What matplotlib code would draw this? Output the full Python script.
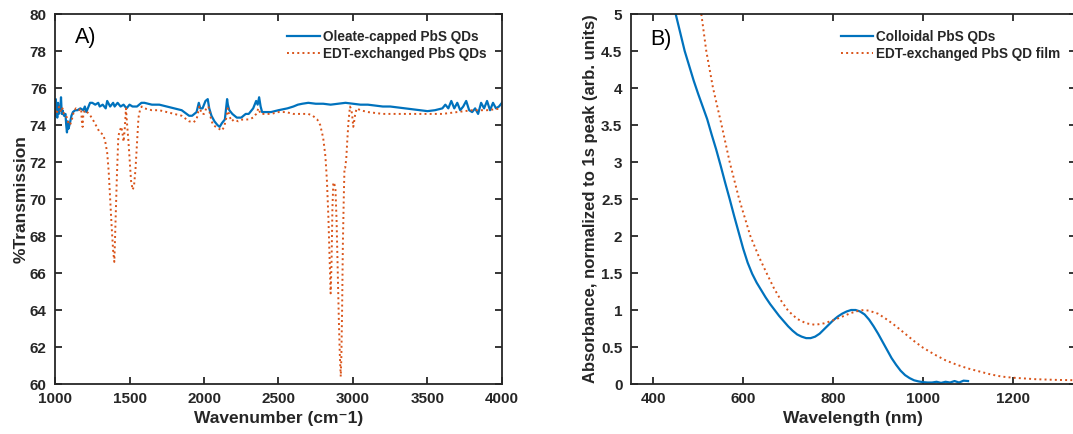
import numpy as np
import matplotlib
matplotlib.use("Agg")
import matplotlib.pyplot as plt
from matplotlib.ticker import FormatStrFormatter

plt.rcParams["font.family"] = ["Liberation Sans", "DejaVu Sans"]
plt.rcParams["font.weight"] = "bold"

BLUE = "#0072BD"
ORANGE = "#D95319"
AX = "#262626"

# panel A: FTIR, wavenumber (cm-1) vs %T
wn_oleate = [1000, 1005, 1010, 1015, 1020, 1025, 1030, 1035, 1040, 1045, 1050, 1060, 1070, 1075,
             1080, 1085, 1090, 1100, 1110, 1120, 1135, 1150, 1170, 1190, 1200, 1210, 1220, 1235,
             1250, 1270, 1290, 1300, 1320, 1340, 1350, 1370, 1390, 1400, 1420, 1440, 1460, 1480,
             1500, 1520, 1550, 1580, 1600, 1650, 1700, 1750, 1800, 1850, 1900, 1920, 1950, 1965,
             1975, 1990, 2010, 2025, 2035, 2050, 2070, 2090, 2105, 2120, 2140, 2155, 2160, 2170,
             2190, 2220, 2250, 2280, 2300, 2330, 2350, 2360, 2370, 2380, 2390, 2420, 2450, 2500,
             2530, 2560, 2600, 2630, 2660, 2700, 2750, 2800, 2850, 2900, 2950, 3000, 3050, 3100,
             3150, 3200, 3250, 3300, 3350, 3400, 3450, 3500, 3550, 3600,
             3620, 3640, 3660, 3680, 3700, 3720, 3740, 3760, 3780, 3800, 3820, 3840, 3860, 3880,
             3900, 3920, 3940, 3960, 3980, 4000]
t_oleate = [74.5, 75.4, 74.8, 74.4, 75.2, 74.6, 75.0, 74.8, 75.5, 74.6, 74.8, 74.5, 74.6, 74.0,
            73.6, 74.2, 73.8, 74.1, 74.5, 74.7, 74.8, 74.8, 74.9, 74.8, 75.0, 74.7, 74.9, 75.2,
            75.2, 75.1, 75.2, 75.0, 75.1, 74.9, 75.3, 75.0, 75.2, 75.0, 75.2, 75.0, 75.1, 74.9,
            75.1, 75.0, 75.0, 75.2, 75.2, 75.1, 75.1, 75.0, 74.9, 74.8, 74.5, 74.5, 74.7, 75.2,
            74.9, 74.9, 75.3, 75.4, 74.9, 74.5, 74.2, 74.0, 73.9, 74.1, 74.3, 75.4, 75.1, 74.8,
            74.6, 74.4, 74.4, 74.6, 74.6, 74.9, 75.3, 75.1, 75.5, 75.0, 74.7, 74.7, 74.7, 74.8,
            74.85, 74.9, 75.0, 75.1, 75.15, 75.2, 75.15, 75.15, 75.1, 75.15, 75.2, 75.15, 75.1, 75.1,
            75.05, 75.0, 75.0, 74.95, 74.9, 74.85, 74.8, 74.75, 74.8, 74.9,
            75.1, 74.9, 75.3, 74.9, 75.2, 74.8, 75.0, 75.3, 74.8, 74.7, 74.9, 74.6, 75.2, 74.9,
            75.3, 74.8, 75.2, 74.9, 75.0, 75.2]

wn_edt = [1000, 1010, 1020, 1030, 1040, 1050, 1060, 1075, 1090, 1100, 1110, 1125, 1140, 1160,
          1175, 1180, 1185, 1190, 1200, 1215, 1230, 1245, 1260, 1280, 1300, 1320, 1335, 1350,
          1360, 1370, 1380, 1390, 1398, 1405, 1415, 1425, 1435, 1445, 1452, 1460, 1468, 1476,
          1484, 1492, 1500, 1510, 1521, 1530, 1540, 1550, 1560, 1570, 1582, 1600, 1650, 1700,
          1750, 1800, 1850, 1900, 1930, 1950, 1969, 1985, 2000, 2015, 2030, 2045, 2060, 2080,
          2100, 2120, 2135, 2150, 2159, 2170, 2185, 2200, 2230, 2260, 2300, 2330, 2350, 2365,
          2380, 2400, 2450, 2500, 2550, 2600, 2650, 2700, 2730, 2760, 2780, 2800, 2815, 2825,
          2835, 2843, 2850, 2856, 2862, 2868, 2875, 2882, 2890, 2898, 2905, 2912, 2918, 2922,
          2927, 2932, 2938, 2943, 2948, 2955, 2962, 2970, 2980, 2990, 2996, 3002, 3008, 3015,
          3025, 3050, 3100, 3200, 3300, 3400, 3500, 3600, 3700, 3800, 3900, 4000]
t_edt = [74.8, 74.6, 74.9, 75.0, 74.7, 74.9, 74.6, 74.5, 74.1, 74.0, 74.2, 74.7, 74.9, 74.8,
         74.9, 74.2, 73.9, 74.6, 74.8, 74.7, 74.6, 74.4, 74.2, 73.9, 73.6, 73.5, 73.2, 72.5,
         71.5, 70.0, 68.5, 67.2, 66.6, 68.5, 71.2, 73.4, 73.7, 73.9, 73.6, 73.1, 73.8, 74.9,
         74.0, 73.2, 72.2, 71.0, 70.5, 70.7, 71.6, 73.0, 74.4, 74.8, 75.0, 74.9, 74.8, 74.8,
         74.7, 74.6, 74.5, 74.2, 74.15, 74.3, 75.0, 74.6, 74.6, 74.9, 75.0, 74.4, 74.0, 73.9,
         73.8, 73.7, 73.9, 74.4, 74.9, 74.5, 74.2, 74.3, 74.2, 74.3, 74.3, 74.4, 74.6, 74.9,
         74.6, 74.6, 74.6, 74.7, 74.7, 74.6, 74.6, 74.6, 74.5, 74.3, 74.0, 73.3, 72.3, 71.0,
         69.0, 66.8, 64.9, 66.5, 69.5, 70.9, 70.8, 70.6, 68.8, 66.0, 63.5, 61.5, 60.4, 61.5,
         64.0, 67.5, 70.0, 71.7, 71.7, 72.2, 73.2, 74.2, 75.0, 74.8, 74.4, 73.9, 74.2, 74.6,
         74.9, 74.8, 74.7, 74.6, 74.6, 74.6, 74.6, 74.6, 74.7, 74.8, 74.8, 74.9]

# panel B: absorbance normalised to 1s peak
nm_coll = [450, 460, 470, 480, 490, 500, 510, 520, 530, 540, 550, 560, 570, 580, 590, 600,
           610, 620, 630, 640, 650, 660, 670, 680, 690, 700, 710, 720, 730, 740, 750, 760,
           770, 780, 790, 800, 810, 820, 830, 840, 850, 860, 870, 880, 890, 900, 910, 920,
           930, 940, 950, 960, 970, 980, 990, 1000, 1010, 1020, 1030, 1040, 1050, 1060, 1070,
           1080, 1090, 1100]
abs_coll = [5.0, 4.75, 4.5, 4.3, 4.1, 3.92, 3.75, 3.58, 3.37, 3.17, 2.95, 2.72, 2.5, 2.27,
            2.05, 1.83, 1.64, 1.49, 1.37, 1.27, 1.17, 1.08, 1.0, 0.92, 0.85, 0.78, 0.72, 0.67,
            0.64, 0.62, 0.62, 0.64, 0.68, 0.74, 0.8, 0.86, 0.91, 0.95, 0.98, 1.0, 1.0, 0.98,
            0.94, 0.87, 0.78, 0.68, 0.57, 0.46, 0.35, 0.26, 0.18, 0.12, 0.08, 0.05, 0.035,
            0.025, 0.02, 0.02, 0.03, 0.015, 0.03, 0.02, 0.04, 0.02, 0.045, 0.04]

nm_film = [507, 518, 533, 552, 570, 591, 616, 635, 652, 668, 685, 700, 720, 740, 760, 780,
           800, 820, 840, 860, 870, 880, 900, 920, 940, 960, 980, 1000, 1025, 1050, 1075,
           1100, 1125, 1150, 1175, 1200, 1250, 1300, 1350]
abs_film = [5.0, 4.5, 4.0, 3.5, 3.0, 2.5, 2.0, 1.72, 1.5, 1.3, 1.12, 0.99, 0.88, 0.82, 0.8,
            0.82, 0.86, 0.91, 0.96, 0.995, 1.0, 0.99, 0.95, 0.87, 0.78, 0.68, 0.58, 0.49,
            0.4, 0.32, 0.26, 0.21, 0.17, 0.13, 0.1, 0.085, 0.065, 0.055, 0.05]


def style(ax):
    for s in ax.spines.values():
        s.set_color(AX)
        s.set_linewidth(1.3)
    ax.tick_params(direction="in", top=True, right=True, length=5, width=1.3,
                   color=AX, labelcolor=AX, labelsize=11, pad=6)
    for lab in ax.get_xticklabels() + ax.get_yticklabels():
        lab.set_fontweight("bold")


def legend(ax):
    leg = ax.legend(loc="upper right", frameon=False, fontsize=9.8, handlelength=2.4,
                    handletextpad=0.2, borderaxespad=0.75, labelspacing=0.25)
    for t in leg.get_texts():
        t.set_color(AX)
        t.set_fontweight("bold")


fig = plt.figure(figsize=(10.73, 4.34), dpi=100)

ax1 = fig.add_axes([0.0513, 0.1152, 0.4165, 0.8525])
ax1.plot(wn_oleate, t_oleate, color=BLUE, lw=1.6, label="Oleate-capped PbS QDs")
ax1.plot(wn_edt, t_edt, color=ORANGE, lw=1.4, ls=":", label="EDT-exchanged PbS QDs")
ax1.set_xlim(1000, 4000)
ax1.set_ylim(60, 80)
ax1.set_xticks(np.arange(1000, 4001, 500))
ax1.set_yticks(np.arange(60, 81, 2))
style(ax1)
ax1.set_xlabel("Wavenumber (cm\u207b1)", fontsize=12.5, fontweight="bold", color=AX, labelpad=3)
ax1.set_ylabel("%Transmission", fontsize=12.5, fontweight="bold", color=AX, labelpad=1)
ax1.text(0.045, 0.965, "A)", transform=ax1.transAxes, fontsize=15.5, fontweight="normal",
         va="top", ha="left", color="black")
legend(ax1)

ax2 = fig.add_axes([0.5878, 0.1152, 0.415, 0.8525])
ax2.plot(nm_coll, abs_coll, color=BLUE, lw=1.6, label="Colloidal PbS QDs")
ax2.plot(nm_film, abs_film, color=ORANGE, lw=1.4, ls=":", label="EDT-exchanged PbS QD film")
ax2.set_xlim(350, 1340)
ax2.set_ylim(0, 5)
ax2.set_xticks(np.arange(400, 1201, 200))
ax2.set_yticks(np.arange(0, 5.01, 0.5))
ax2.yaxis.set_major_formatter(FormatStrFormatter("%g"))
style(ax2)
ax2.set_xlabel("Wavelength (nm)", fontsize=12.5, fontweight="bold", color=AX, labelpad=3)
ax2.set_ylabel("Absorbance, normalized to 1s peak (arb. units)", fontsize=12,
               fontweight="bold", color=AX, labelpad=2)
ax2.text(0.045, 0.96, "B)", transform=ax2.transAxes, fontsize=15.5, fontweight="normal",
         va="top", ha="left", color="black")
legend(ax2)

fig.savefig("out.png", dpi=100)
